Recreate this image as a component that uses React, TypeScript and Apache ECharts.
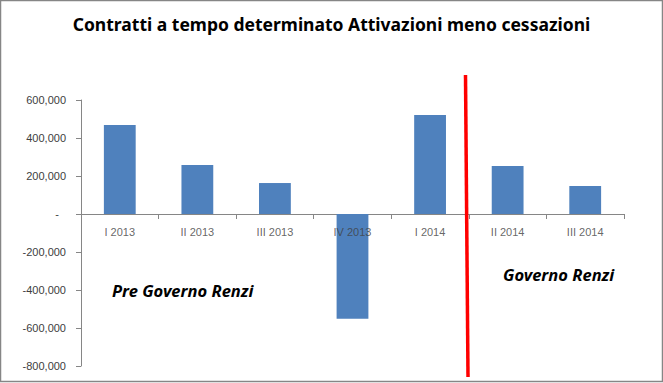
import React, { useEffect, useRef } from "react";
import * as echarts from "echarts";

const categories = ["I 2013", "II 2013", "III 2013", "IV 2013", "I 2014", "II 2014", "III 2014"];
const values = [468000, 258000, 163000, -551000, 521000, 253000, 147000];
const titleText = "Contratti a tempo determinato Attivazioni meno cessazioni";
const leftNote = "Pre Governo Renzi";
const rightNote = "Governo Renzi";

export default function App() {
  const ref = useRef<HTMLDivElement>(null);
  useEffect(() => {
    document.body.style.margin = "0";
    const chart = echarts.init(ref.current!, null, { renderer: "svg" });
    chart.setOption({
      animation: false,
      backgroundColor: "#ffffff",
      title: {
        text: titleText,
        left: "center",
        top: 10,
        textStyle: { fontFamily: "Noto Sans", fontWeight: "bold", fontSize: 17.5, color: "#000" },
      },
      grid: { left: 81, right: 39, top: 100, bottom: 17, outerBoundsMode: "none", containLabel: false },
      xAxis: {
        type: "category",
        data: categories,
        axisLine: { onZero: true, lineStyle: { color: "#868686", width: 1 } },
        axisTick: { show: true, alignWithLabel: false, length: 5, lineStyle: { color: "#868686" } },
        axisLabel: { show: false },
        splitLine: { show: false },
      },
      yAxis: {
        type: "value",
        min: -800000,
        max: 600000,
        interval: 200000,
        axisLine: { show: true, lineStyle: { color: "#868686", width: 1 } },
        axisTick: { show: true, length: 5, lineStyle: { color: "#868686" } },
        splitLine: { show: false },
        axisLabel: {
          color: "#404040",
          fontFamily: "Liberation Sans",
          fontSize: 11,
          margin: 15,
          formatter: (v: number) => (v === 0 ? "{z|-}" : v.toLocaleString("en-US")),
          rich: { z: { padding: [0, 7, 0, 0], color: "#404040", fontFamily: "Liberation Sans", fontSize: 11 } },
        },
      },
      series: [
        {
          type: "bar",
          data: values,
          barWidth: "41%",
          itemStyle: { color: "#4F81BD" },
          z: 2,
        },
        {
          type: "scatter",
          data: categories.map((c) => [c, 0]),
          symbolSize: 0,
          silent: true,
          z: 5,
          label: {
            show: true,
            position: "bottom",
            distance: 12,
            formatter: (p: any) => p.value[0],
            color: "#404040",
            fontFamily: "Liberation Sans",
            fontSize: 11,
          },
        },
      ],
      graphic: [
        {
          type: "rect",
          shape: { x: 0.5, y: 0.5, width: 662, height: 381 },
          style: { fill: "none", stroke: "#868686", lineWidth: 1.5 },
          z: 100,
        },
        {
          type: "line",
          shape: { x1: 465.5, y1: 75, x2: 468, y2: 377 },
          style: { stroke: "#FF0000", lineWidth: 3.5 },
          z: 100,
        },
        {
          type: "text",
          left: 112,
          top: 282,
          style: { text: leftNote, fontFamily: "Noto Sans", fontWeight: "bold", fontStyle: "italic", fontSize: 16.5, fill: "#000" },
          z: 100,
        },
        {
          type: "text",
          left: 503,
          top: 266,
          style: { text: rightNote, fontFamily: "Noto Sans", fontWeight: "bold", fontStyle: "italic", fontSize: 16.5, fill: "#000" },
          z: 100,
        },
      ],
    });
    return () => chart.dispose();
  }, []);
  return <div ref={ref} style={{ position: "fixed", left: 0, top: 0, width: 663, height: 383 }} />;
}
